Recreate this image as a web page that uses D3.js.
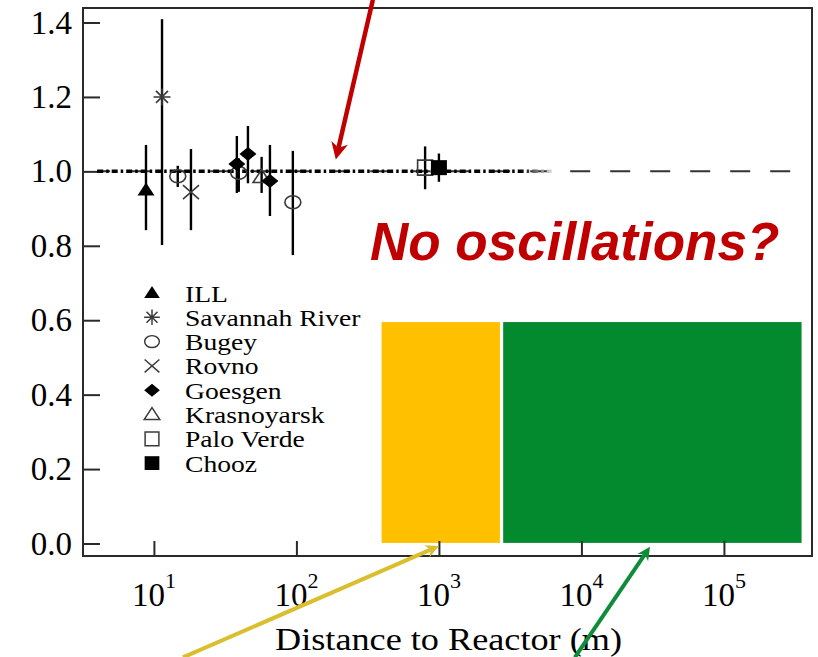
<!DOCTYPE html>
<html><head><meta charset="utf-8">
<script src="https://cdn.jsdelivr.net/npm/d3@7"></script>
<style>body{margin:0;background:#fff}svg{display:block}</style>
</head><body>
<svg id="c" width="818" height="657"></svg>
<script>
// ---- data ----
const legendNames   = ["ILL","Savannah River","Bugey","Rovno","Goesgen","Krasnoyarsk","Palo Verde","Chooz"];
const legendSymbols = ["triFill","asterisk","circle","cross","diamond","triOpen","square","squareFill"];

const pointExp   = ["Bugey","Krasnoyarsk","Palo Verde","ILL","Savannah River","Bugey","Rovno","Goesgen","Goesgen","Goesgen","Bugey","Chooz"];
const pointDist  = [39.4, 57.0, 800, 8.8, 11.4, 14.7, 18.2, 38.2, 45.7, 65.2, 94.4, 1000];
const pointRatio = [0.996, 0.985, 1.010, 0.950, 1.200, 0.987, 0.944, 1.020, 1.047, 0.974, 0.917, 1.010];
const errHigh    = [1.035, 1.039, 1.067, 1.071, 1.409, 1.015, 1.060, 1.095, 1.122, 1.071, 1.055, 1.048];
const errLow     = [0.945, 0.942, 0.952, 0.842, 0.802, 0.958, 0.842, 0.942, 0.968, 0.880, 0.775, 0.972];

const yTicks = [0.0, 0.2, 0.4, 0.6, 0.8, 1.0, 1.2, 1.4];
const xTicks = [1e1, 1e2, 1e3, 1e4, 1e5];
const xTickExp = ["1","2","3","4","5"];
const xTitle = "Distance to Reactor (m)";
const noteText = "No oscillations?";

// reference line y = 1 (data units)
const fitRange  = [4, 6200];
const dashRange = [4, 300600];
// annotation boxes [x0, x1, y0, y1] in data units
const boxYellow = [396, 2681, 0.0016, 0.595];
const boxGreen  = [2825, 350600, 0.0016, 0.595];
// annotation arrows [fromX, fromY, toX, toY] in data units
const arrowRed    = [344, 1.461, 189, 1.032];
const arrowYellow = [16.0, -0.306, 1000, -0.007];
const arrowGreen  = [8995, -0.306, 30300, -0.009];

// ---- scales ----
const svg = d3.select("#c");
const x = d3.scaleLog().domain([3.18, 4.15e5]).range([83, 812]);
const y = d3.scaleLinear().domain([-0.0336, 1.439]).range([556, 8]);
const serif = "'Liberation Serif','Times New Roman',serif";

// ---- shapes ----
const shapes = {
  triFill:   {d:"M0,-7.5L8.5,5.5L-8.5,5.5Z", fill:"#000", stroke:"none"},
  triOpen:   {d:"M0,-7.5L8.5,5.5L-8.5,5.5Z", fill:"none", stroke:"#3a3a3a"},
  asterisk:  {d:"M-8.5,0H8.5M0,-8.5V8.5M-6,-6L6,6M-6,6L6,-6", fill:"none", stroke:"#3a3a3a"},
  circle:    {d:"M-8,0A8,6.5 0 1,0 8,0A8,6.5 0 1,0 -8,0Z", fill:"none", stroke:"#3a3a3a"},
  cross:     {d:"M-8,-7L8,7M-8,7L8,-7", fill:"none", stroke:"#3a3a3a"},
  diamond:   {d:"M0,-7L8.5,0L0,7L-8.5,0Z", fill:"#000", stroke:"none"},
  square:    {d:"M-7.5,-7.5H7.5V7.5H-7.5Z", fill:"none", stroke:"#3a3a3a"},
  squareFill:{d:"M-8,-7.5H8V7.5H-8Z", fill:"#000", stroke:"none"}
};
const symOf = name => legendSymbols[legendNames.indexOf(name)];

// ---- annotation boxes (behind) ----
[[boxYellow,"#FFC000"],[boxGreen,"#03892E"]].forEach(([b,c]) => {
  svg.append("rect")
    .attr("x", x(b[0])).attr("y", y(b[3]))
    .attr("width", x(b[1]) - x(b[0])).attr("height", y(b[2]) - y(b[3]))
    .attr("fill", c);
});

// ---- frame ----
svg.append("rect").attr("x", x.range()[0]).attr("y", y.range()[1])
  .attr("width", x.range()[1] - x.range()[0]).attr("height", y.range()[0] - y.range()[1])
  .attr("fill", "none").attr("stroke", "#2a2a2a").attr("stroke-width", 2);

// ---- axes ----
const yAxis = svg.append("g").attr("transform", `translate(${x.range()[0]},0)`)
  .call(d3.axisLeft(y).tickValues(yTicks).tickSizeInner(-17).tickSizeOuter(0).tickPadding(11).tickFormat(d3.format(".1f")));
yAxis.select(".domain").remove();
yAxis.selectAll(".tick line").attr("stroke", "#2a2a2a").attr("stroke-width", 2);
yAxis.selectAll(".tick text").attr("font-family", serif).attr("font-size", 33).attr("fill", "#000");

const xAxis = svg.append("g").attr("transform", `translate(0,${y.range()[0]})`)
  .call(d3.axisBottom(x).tickValues(xTicks).tickSizeInner(-15).tickSizeOuter(0).tickFormat(""));
xAxis.select(".domain").remove();
xAxis.selectAll(".tick line").attr("stroke", "#2a2a2a").attr("stroke-width", 2);

xTicks.forEach((t, i) => {
  const tx = svg.append("text").attr("x", x(t)).attr("y", 606)
    .attr("text-anchor", "middle").attr("font-family", serif).attr("font-size", 33).attr("fill", "#000");
  tx.append("tspan").text("10");
  tx.append("tspan").attr("dy", -18).attr("font-size", 22).text(xTickExp[i]);
});

svg.append("text").attr("x", 275).attr("y", 650)
  .attr("font-family", serif).attr("font-size", 32).attr("fill", "#000")
  .attr("textLength", 347).attr("lengthAdjust", "spacingAndGlyphs")
  .text(xTitle);

// ---- reference line at 1 ----
svg.append("line")
  .attr("x1", x(dashRange[0])).attr("x2", x(dashRange[1]))
  .attr("y1", y(1)).attr("y2", y(1))
  .attr("stroke", "#333").attr("stroke-width", 2)
  .attr("stroke-dasharray", "20,20").attr("stroke-dashoffset", 7);

const grad = svg.append("defs").append("linearGradient").attr("id", "fade")
  .attr("gradientUnits", "userSpaceOnUse")
  .attr("x1", x(fitRange[0])).attr("x2", x(fitRange[1])).attr("y1", 0).attr("y2", 0);
grad.append("stop").attr("offset", "0.93").attr("stop-color", "#000");
grad.append("stop").attr("offset", "1").attr("stop-color", "#ddd");
svg.append("line")
  .attr("x1", x(fitRange[0])).attr("x2", x(fitRange[1]))
  .attr("y1", y(1)).attr("y2", y(1))
  .attr("stroke", "url(#fade)").attr("stroke-width", 3.5)
  .attr("stroke-dasharray", "6,3,2.5,3");

// ---- error bars ----
svg.append("g").selectAll("line").data(pointDist).join("line")
  .attr("x1", d => x(d)).attr("x2", d => x(d))
  .attr("y1", (d, i) => y(errHigh[i])).attr("y2", (d, i) => y(errLow[i]))
  .attr("stroke", "#000").attr("stroke-width", 2.4);

// ---- points ----
svg.append("g").selectAll("path").data(pointDist).join("path")
  .attr("transform", (d, i) => `translate(${x(d)},${y(pointRatio[i])})`)
  .attr("d", (d, i) => shapes[symOf(pointExp[i])].d)
  .attr("fill", (d, i) => shapes[symOf(pointExp[i])].fill)
  .attr("stroke", (d, i) => shapes[symOf(pointExp[i])].stroke)
  .attr("stroke-width", 1.6);

// ---- legend ----
const leg = svg.append("g");
legendNames.forEach((n, i) => {
  const ry = 293 + i * 24.3;
  const s = shapes[legendSymbols[i]];
  leg.append("path").attr("transform", `translate(152,${ry}) scale(0.92)`)
    .attr("d", s.d).attr("fill", s.fill).attr("stroke", s.stroke).attr("stroke-width", 1.6);
  leg.append("text").attr("transform", `translate(185,${ry + 8.5}) scale(1.15,1)`)
    .attr("font-family", serif).attr("font-size", 24).attr("fill", "#000").text(n);
});

// ---- note ----
svg.append("text").attr("x", 370).attr("y", 260)
  .attr("font-family", "'Liberation Sans',Arial,sans-serif").attr("font-size", 53)
  .attr("font-weight", "bold").attr("font-style", "italic").attr("fill", "#C00000")
  .text(noteText);

// ---- arrows ----
function arrow(a, color, w, L, W) {
  const p0 = [x(a[0]), y(a[1])], p1 = [x(a[2]), y(a[3])];
  const dx = p1[0] - p0[0], dy = p1[1] - p0[1], len = Math.hypot(dx, dy);
  const u = [dx / len, dy / len], n = [-u[1], u[0]];
  const back = [p1[0] - u[0] * L, p1[1] - u[1] * L];
  const notch = [p1[0] - u[0] * L * 0.7, p1[1] - u[1] * L * 0.7];
  svg.append("line").attr("x1", p0[0]).attr("y1", p0[1])
    .attr("x2", notch[0] + u[0] * 2).attr("y2", notch[1] + u[1] * 2)
    .attr("stroke", color).attr("stroke-width", w);
  svg.append("path").attr("d", d3.line()([
      p1, [back[0] + n[0] * W, back[1] + n[1] * W], notch, [back[0] - n[0] * W, back[1] - n[1] * W]
    ]) + "Z").attr("fill", color);
}
arrow(arrowRed, "#C00000", 4.5, 17, 8.5);
arrow(arrowYellow, "#DABE2E", 4, 13, 6.5);
arrow(arrowGreen, "#0E8C3A", 4, 13, 6.5);
</script>
</body></html>
